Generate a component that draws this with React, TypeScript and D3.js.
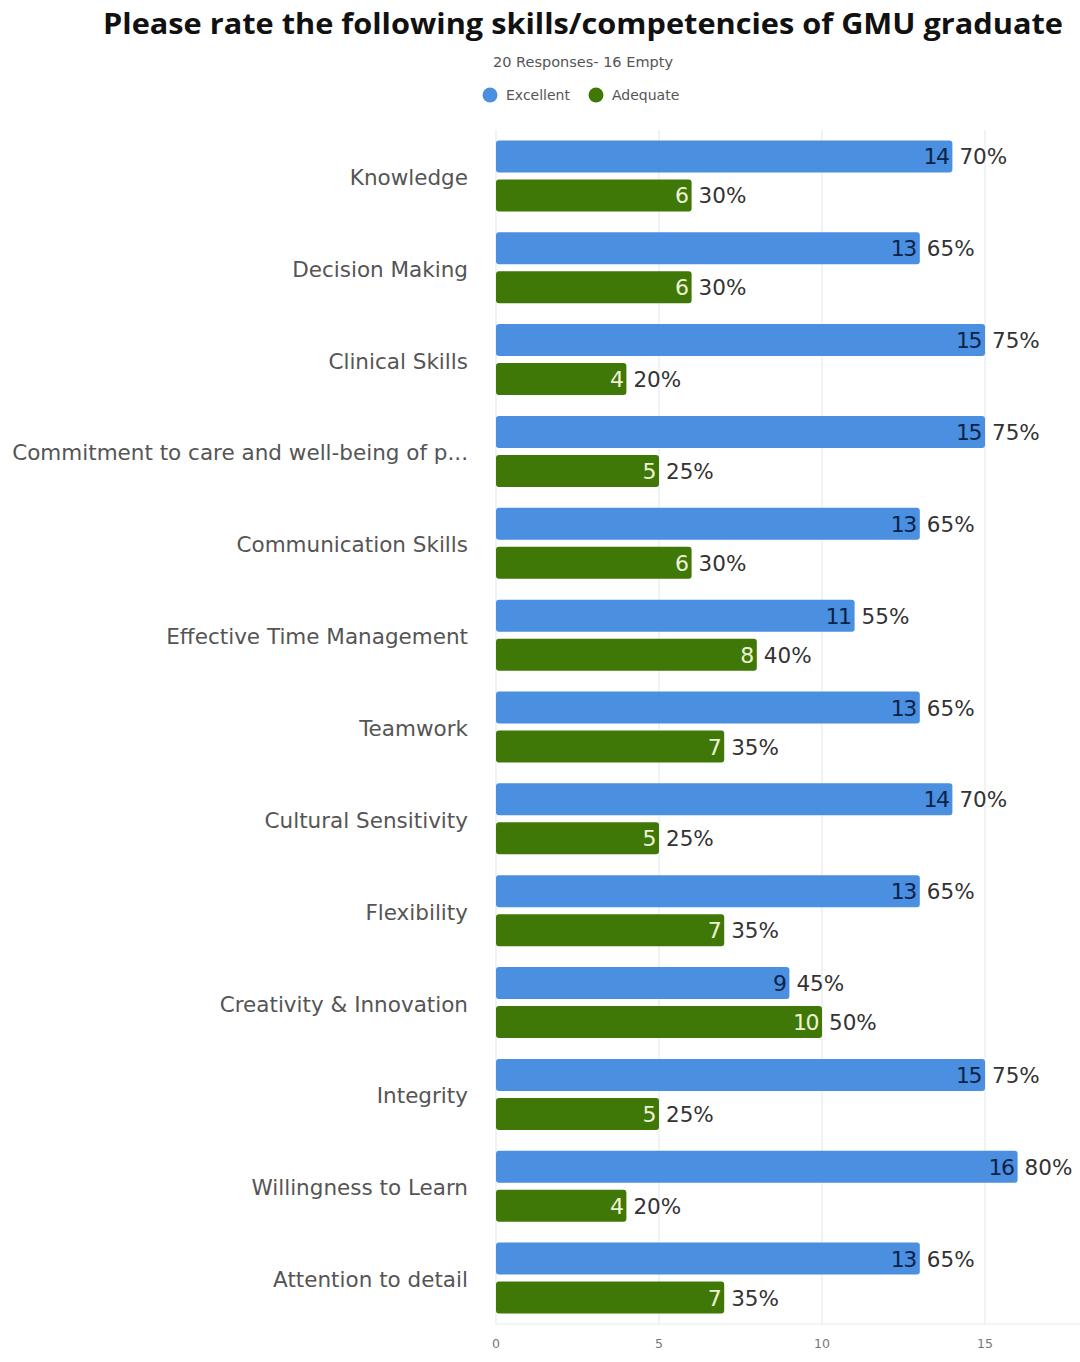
import React from "react";
import * as d3 from "d3";

const categories = [
  "Knowledge",
  "Decision Making",
  "Clinical Skills",
  "Commitment to care and well-being of p...",
  "Communication Skills",
  "Effective Time Management",
  "Teamwork",
  "Cultural Sensitivity",
  "Flexibility",
  "Creativity & Innovation",
  "Integrity",
  "Willingness to Learn",
  "Attention to detail",
];
const excellent = [14, 13, 15, 15, 13, 11, 13, 14, 13, 9, 15, 16, 13];
const adequate = [6, 6, 4, 5, 6, 8, 7, 5, 7, 10, 5, 4, 7];
const totalResponses = 20;
const emptyResponses = 16;
const xTicks = [0, 5, 10, 15];
const seriesNames = ["Excellent", "Adequate"];
const seriesColors = ["#4a8fe0", "#3f7806"];
const innerLabelColors = ["#0b2348", "#eef3d6"];

const W = 1080;
const H = 1362;
const left = 496;
const right = 1080;
const top = 130;
const bottom = 1324;

export default function App() {
  const x = d3.scaleLinear().domain([0, 17.9]).range([left, left + 17.9 * 32.6]);
  const y = d3.scaleBand().domain(categories).range([top, bottom]).paddingInner(0).paddingOuter(0);
  const series = [excellent, adequate];
  const barH = 32;
  const gap = 7;
  const font = "'DejaVu Sans', 'Open Sans', sans-serif";

  return (
    <svg
      width={W}
      height={H}
      style={{ position: "absolute", left: 0, top: 0, background: "#fff" }}
      fontFamily={font}
    >
      <rect x={0} y={0} width={W} height={H} fill="#fff" />
      <text
        x={583}
        y={34}
        textAnchor="middle"
        fontSize={29}
        fontWeight={700}
        fill="#111"
        fontFamily="'Open Sans', sans-serif"
        textLength={960}
        lengthAdjust="spacingAndGlyphs"
      >
        Please rate the following skills/competencies of GMU graduate
      </text>
      <text x={583} y={67} textAnchor="middle" fontSize={13.5} fill="#555" textLength={180} lengthAdjust="spacingAndGlyphs">
        {`${totalResponses} Responses- ${emptyResponses} Empty`}
      </text>
      {/* legend */}
      {seriesNames.map((n, i) => {
        const lx = i === 0 ? 490 : 596;
        return (
          <g key={n}>
            <circle cx={lx} cy={95} r={7.5} fill={seriesColors[i]} />
            <text x={lx + 16} y={100} fontSize={14} fill="#555">
              {n}
            </text>
          </g>
        );
      })}
      {/* grid */}
      {xTicks.map((t) => (
        <g key={t}>
          <line x1={x(t)} x2={x(t)} y1={top} y2={bottom} stroke="#e6e9f0" strokeWidth={1.2} />
          <text x={x(t)} y={1348} textAnchor="middle" fontSize={12.5} fill="#777">
            {t}
          </text>
        </g>
      ))}
      <line x1={left} x2={right} y1={bottom} y2={bottom} stroke="#e6e9f0" strokeWidth={1.2} />
      {categories.map((c, ci) => {
        const band = y(c)!;
        const groupH = barH * 2 + gap;
        const y0 = band + (y.bandwidth() - groupH) / 2;
        return (
          <g key={c}>
            <text
              x={468}
              y={band + y.bandwidth() / 2 + 9}
              textAnchor="end"
              fontSize={21.5}
              fill="#555"
            >
              {c}
            </text>
            {series.map((s, si) => {
              const v = s[ci];
              const by = y0 + si * (barH + gap);
              const xe = x(v);
              return (
                <g key={si}>
                  <rect
                    x={x(0)}
                    y={by}
                    width={xe - x(0)}
                    height={barH}
                    rx={3}
                    fill={seriesColors[si]}
                  />
                  <text
                    x={xe - 4}
                    y={by + barH / 2 + 8}
                    textAnchor="end"
                    fontSize={22}
                    fill={innerLabelColors[si]}
                    letterSpacing={-1.5}
                  >
                    {v}
                  </text>
                  <text x={xe + 7} y={by + barH / 2 + 8} fontSize={21.5} fill="#333">
                    {`${Math.round((v / totalResponses) * 100)}%`}
                  </text>
                </g>
              );
            })}
          </g>
        );
      })}
    </svg>
  );
}
